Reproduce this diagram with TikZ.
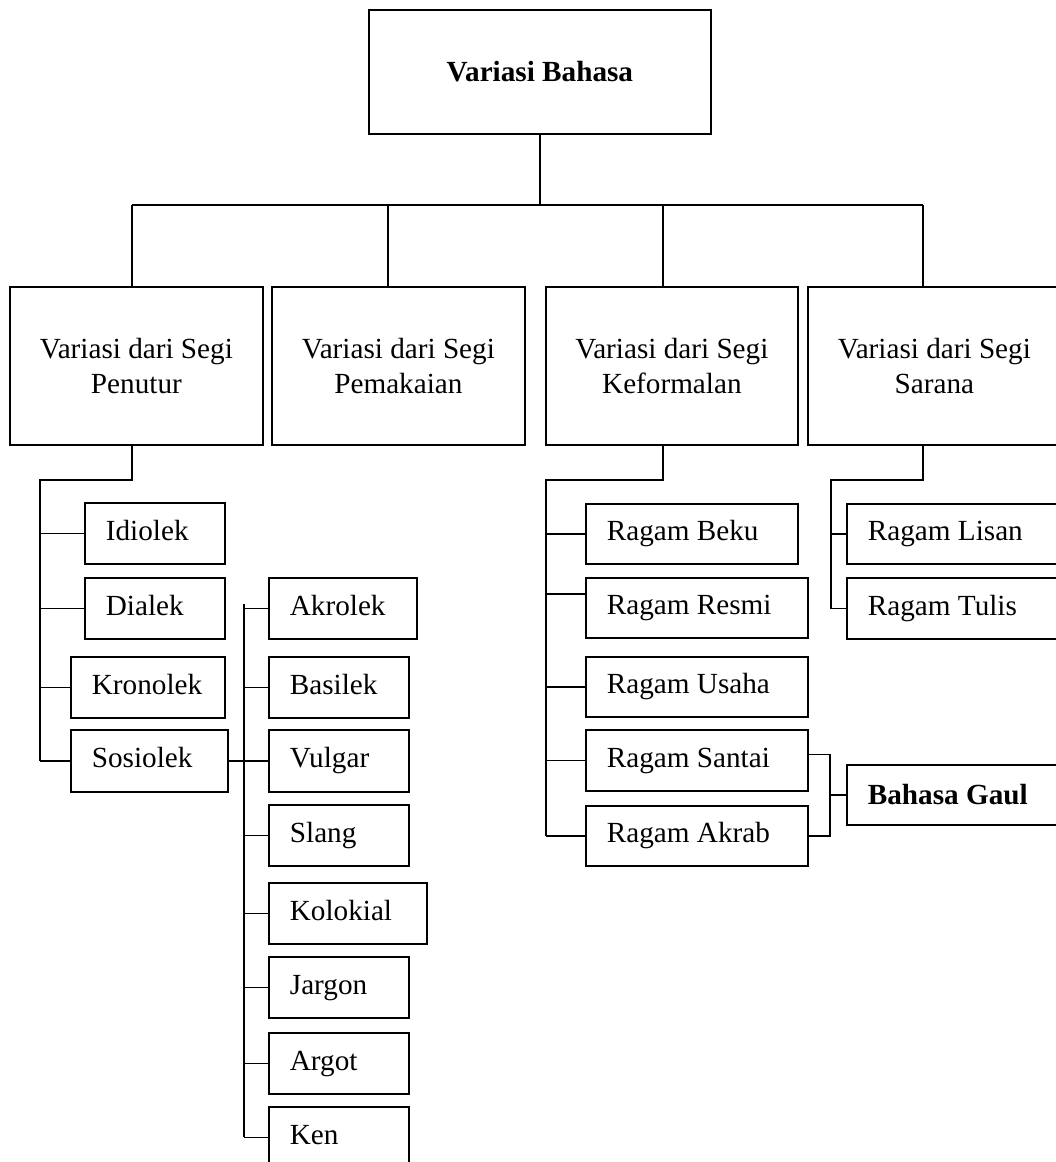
\documentclass[tikz,border=0pt]{standalone}
\usepackage{fontspec}
\setmainfont{Liberation Serif}
\newcommand{\ptfont}{\fontsize{29.2}{35}\selectfont}

\begin{document}
\begin{tikzpicture}[x=1pt,y=-1pt,line width=1.8pt,
  every node/.style={font=\ptfont},
  bold/.style={font=\ptfont\bfseries},
  box/.style={draw,anchor=north west,inner sep=0pt,minimum width=253pt,minimum height=158pt,align=center},
  leaf/.style 2 args={draw,anchor=north west,inner xsep=21pt,inner ysep=0pt,minimum width=#1pt,text width=#1pt-42pt,minimum height=#2pt,text height=20pt,text depth=6pt,align=flush left}]
\clip (0,0) rectangle (1056,1162);
\node[draw,anchor=north west,minimum width=342pt,minimum height=124pt,bold] (VB) at (368,9) {Variasi Bahasa};
\node[box] (Penutur) at (9,286) {Variasi dari Segi\\Penutur};
\node[box] (Pemakaian) at (271,286) {Variasi dari Segi\\Pemakaian};
\node[box,minimum width=252pt] (Keformalan) at (545,286) {Variasi dari Segi\\Keformalan};
\node[box] (Sarana) at (807,286) {Variasi dari Segi\\Sarana};
% penutur
\node[leaf={140}{61}] (Idiolek) at (84,502) {Idiolek};
\node[leaf={140}{61}] (Dialek) at (84,577) {Dialek};
\node[leaf={154}{61}] (Kronolek) at (70,656) {Kronolek};
\node[leaf={157}{62}] (Sosiolek) at (70,729) {Sosiolek};
% sosiolek
\node[leaf={148}{61}] (Akrolek) at (268,577) {Akrolek};
\node[leaf={140}{61}] (Basilek) at (268,656) {Basilek};
\node[leaf={140}{62}] (Vulgar) at (268,729) {Vulgar};
\node[leaf={140}{61}] (Slang) at (268,804) {Slang};
\node[leaf={158}{61}] (Kolokial) at (268,882) {Kolokial};
\node[leaf={140}{61}] (Jargon) at (268,956) {Jargon};
\node[leaf={140}{61}] (Argot) at (268,1032) {Argot};
\node[leaf={140}{61}] (Ken) at (268,1106) {Ken};
% keformalan
\node[leaf={212}{60}] (Beku) at (585,503) {Ragam Beku};
\node[leaf={222}{60}] (Resmi) at (585,577) {Ragam Resmi};
\node[leaf={222}{60}] (Usaha) at (585,656) {Ragam Usaha};
\node[leaf={222}{61}] (Santai) at (585,729) {Ragam Santai};
\node[leaf={222}{60}] (Akrab) at (585,805) {Ragam Akrab};
\node[leaf={224}{60},bold,text depth=0pt] (Gaul) at (846,764) {Bahasa Gaul};
% sarana
\node[leaf={214}{60}] (Lisan) at (846,503) {Ragam Lisan};
\node[leaf={214}{61}] (Tulis) at (846,577) {Ragam Tulis};
\coordinate (b1) at (132,205);
\coordinate (b2) at (388,205);
\coordinate (b3) at (663,205);
\coordinate (b4) at (923,205);
\coordinate (pbus) at (40,480);
\coordinate (sbus) at (244,604);
\coordinate (kbus) at (546,480);
\coordinate (gbus) at (830,790);
\coordinate (rbus) at (831,480);
\draw (VB.south) -- (VB.south |- b1);
\draw (b1) -- (b4);
\draw (b1) -- (b1 |- Penutur.north);
\draw (b2) -- (b2 |- Pemakaian.north);
\draw (b3) -- (b3 |- Keformalan.north);
\draw (b4) -- (b4 |- Sarana.north);
\draw (b1 |- Penutur.south) -- (b1 |- pbus) -- (pbus) -- (pbus |- Sosiolek.west);
\draw (Idiolek.west) -- (Idiolek.west -| pbus);
\draw (Dialek.west) -- (Dialek.west -| pbus);
\draw (Kronolek.west) -- (Kronolek.west -| pbus);
\draw (Sosiolek.west) -- (Sosiolek.west -| pbus);
\draw (Sosiolek.east) -- (Vulgar.west);
\draw (sbus) -- (sbus |- Ken.west);
\draw (Akrolek.west) -- (Akrolek.west -| sbus);
\draw (Basilek.west) -- (Basilek.west -| sbus);
\draw (Slang.west) -- (Slang.west -| sbus);
\draw (Kolokial.west) -- (Kolokial.west -| sbus);
\draw (Jargon.west) -- (Jargon.west -| sbus);
\draw (Argot.west) -- (Argot.west -| sbus);
\draw (Ken.west) -- (Ken.west -| sbus);
\draw (b3 |- Keformalan.south) -- (b3 |- kbus) -- (kbus) -- (kbus |- Akrab.west);
\draw (Beku.west) -- (Beku.west -| kbus);
\draw ([yshift=14pt]Resmi.west) -- ([yshift=14pt]Resmi.west -| kbus);
\draw (Usaha.west) -- (Usaha.west -| kbus);
\draw (Santai.west) -- (Santai.west -| kbus);
\draw (Akrab.west) -- (Akrab.west -| kbus);
\draw ([yshift=6pt]Santai.east) -| (gbus |- Akrab.east) -- (Akrab.east);
\draw (Gaul.west) -- (Gaul.west -| gbus);
\draw (b4 |- Sarana.south) -- (b4 |- rbus) -- (rbus) |- (Tulis.west);
\draw (Lisan.west) -- (Lisan.west -| rbus);
\end{tikzpicture}
\end{document}
